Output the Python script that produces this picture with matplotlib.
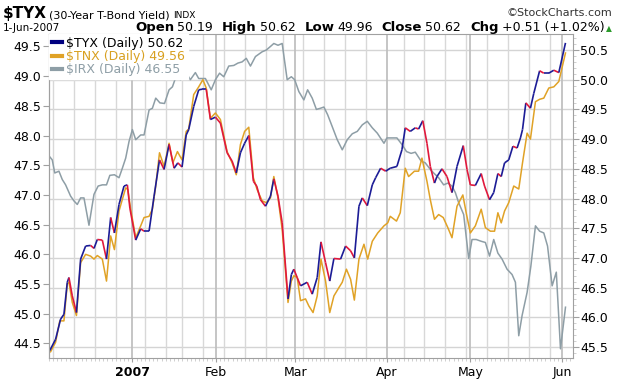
import numpy as np
import matplotlib
matplotlib.use("Agg")
from matplotlib import pyplot as plt
from matplotlib.collections import LineCollection
from matplotlib.lines import Line2D
from matplotlib.transforms import IdentityTransform

# x = trading day (0 = 1-Dec-2006), y
tyx_day = [0.2, 1.6, 2.8, 3.6, 4.4, 4.8, 5.6, 6.6, 7.6, 8.8, 10.0, 10.8, 11.6, 12.8, 13.8,
           14.8, 15.7, 16.8, 18.0, 18.8, 19.4, 20.8, 22.0, 22.8, 24.0, 25.2, 26.5, 27.6,
           28.8, 30.0, 30.9, 31.9, 32.9, 33.5, 34.7, 35.9, 36.7, 37.7, 38.7, 39.9, 41.1,
           42.7, 43.9, 44.9, 45.9, 46.9, 47.9, 49.0, 49.8, 50.7, 51.9, 53.1, 53.9, 54.9,
           55.9, 57.3, 58.1, 58.7, 59.5, 60.3, 61.9, 63.1, 64.3, 65.2, 66.3, 67.3, 68.3,
           69.9, 71.1, 72.3, 73.2, 74.3, 75.1, 76.3, 77.5, 78.3, 79.5, 80.7, 81.8, 83.4,
           84.6, 85.4, 86.6, 87.8, 88.6, 89.6, 90.6, 91.4, 92.4, 93.0, 94.2, 95.4, 96.6,
           97.8, 99.3, 100.2, 101.0, 102.2, 103.6, 104.4, 105.6, 106.6, 107.6, 108.4,
           109.2, 110.2, 111.2, 112.2, 113.0, 113.5, 114.3, 115.4, 116.2, 117.6, 118.6,
           119.8, 121.0, 122.2, 123.8]
tyx_val = [45.44, 45.63, 45.97, 46.05, 46.59, 46.67, 46.36, 46.08, 46.98, 47.20, 47.21,
           47.16, 47.31, 47.30, 46.98, 47.68, 47.42, 47.90, 48.21, 48.23, 47.84, 47.30,
           47.49, 47.45, 47.45, 48.04, 48.65, 48.49, 48.91, 48.51, 48.60, 48.53, 49.07,
           49.16, 49.55, 49.83, 49.84, 49.84, 49.33, 49.37, 49.27, 48.77, 48.63, 48.43,
           48.77, 48.93, 49.06, 48.29, 48.21, 47.98, 47.87, 48.04, 48.33, 48.04, 47.59,
           46.31, 46.72, 46.81, 46.67, 46.53, 46.59, 46.39, 46.67, 47.27, 46.92, 46.61,
           46.99, 46.98, 47.20, 47.12, 47.00, 47.87, 48.01, 47.88, 48.23, 48.35, 48.51,
           48.46, 48.51, 48.54, 48.82, 49.19, 49.13, 49.19, 49.17, 49.31, 48.93, 48.54,
           48.26, 48.37, 48.50, 48.37, 48.10, 48.54, 48.89, 48.49, 48.23, 48.22, 48.42,
           48.21, 47.98, 48.10, 48.42, 48.37, 48.60, 48.65, 48.88, 48.85, 49.02, 49.16,
           49.61, 49.52, 49.77, 50.15, 50.11, 50.11, 50.16, 50.12, 50.62]

tnx_day = [0.4, 1.6, 2.6, 3.6, 4.4, 4.8, 5.6, 6.6, 7.6, 8.8, 10.0, 10.8, 11.6, 12.8, 13.8,
           14.8, 15.7, 16.8, 18.4, 18.9, 19.6, 20.8, 22.0, 22.8, 24.0, 24.8, 25.6, 26.5,
           27.6, 28.8, 29.7, 30.8, 31.9, 32.9, 33.5, 34.7, 35.9, 36.9, 37.7, 38.7, 39.9,
           41.1, 42.7, 43.9, 44.9, 45.9, 46.9, 47.9, 49.0, 49.9, 51.1, 52.1, 53.1, 53.9,
           54.9, 55.9, 57.3, 58.1, 58.7, 59.5, 60.3, 61.5, 62.3, 63.3, 64.3, 65.2, 66.3,
           67.3, 68.3, 69.5, 70.3, 71.3, 72.3, 73.2, 74.3, 75.5, 76.4, 77.5, 78.8, 80.3,
           81.2, 81.8, 83.3, 84.2, 85.4, 86.2, 87.6, 88.6, 89.4, 90.6, 91.4, 92.4, 93.4,
           94.5, 95.6, 96.6, 97.8, 99.2, 100.0, 101.0, 102.2, 103.6, 104.6, 105.8, 106.8,
           107.6, 108.4, 109.2, 110.2, 111.4, 112.6, 113.5, 114.6, 115.4, 116.6, 117.6,
           118.6, 119.8, 121.0, 122.2, 123.8]
tnx_val = [45.42, 45.58, 45.94, 45.94, 46.56, 46.59, 46.25, 46.03, 46.92, 47.06, 47.03,
           46.98, 47.04, 46.98, 46.61, 47.37, 47.14, 47.79, 48.18, 48.15, 47.82, 47.34,
           47.54, 47.68, 47.70, 47.82, 48.21, 48.77, 48.54, 48.93, 48.60, 48.79, 48.65,
           49.13, 49.17, 49.75, 49.88, 50.00, 49.86, 49.35, 49.44, 49.33, 48.79, 48.60,
           48.40, 48.91, 49.13, 49.20, 48.35, 48.15, 47.96, 47.93, 48.01, 48.37, 48.01,
           47.48, 46.25, 46.61, 46.70, 46.67, 46.28, 46.31, 46.19, 46.08, 46.36, 46.98,
           46.61, 46.08, 46.36, 46.50, 46.59, 46.81, 46.64, 46.29, 46.98, 47.23, 46.98,
           47.28, 47.42, 47.54, 47.59, 47.70, 47.62, 47.76, 48.51, 48.37, 48.46, 48.46,
           48.68, 48.29, 47.98, 47.65, 47.73, 47.68, 47.51, 47.34, 47.87, 48.06, 47.76,
           47.42, 47.54, 47.82, 47.51, 47.45, 47.45, 47.76, 47.59, 47.79, 47.93, 48.21,
           48.16, 48.60, 49.10, 49.00, 49.63, 49.67, 49.69, 49.86, 49.88, 49.97, 50.45]

irx_day = [0.0, 0.8, 1.4, 2.4, 3.2, 4.0, 5.2, 6.0, 6.8, 7.6, 8.4, 9.6, 10.8, 11.8, 12.8,
           13.8, 14.6, 15.7, 16.8, 17.6, 18.4, 19.2, 20.0, 20.8, 22.0, 22.8, 24.0, 24.8,
           25.6, 26.6, 27.7, 28.8, 29.6, 30.8, 31.5, 32.7, 33.9, 35.1, 35.9, 37.5, 38.9,
           39.9, 40.9, 41.9, 43.1, 44.3, 45.3, 46.3, 47.3, 48.3, 49.5, 51.1, 52.1, 53.1,
           53.9, 54.9, 55.9, 57.1, 58.1, 58.9, 59.9, 61.1, 62.0, 63.1, 64.1, 65.1, 65.9,
           66.8, 67.9, 69.1, 70.3, 71.5, 72.7, 73.9, 75.1, 76.3, 77.5, 78.7, 80.3, 81.0,
           82.2, 83.4, 84.6, 85.7, 86.8, 87.8, 89.2, 90.2, 91.4, 92.2, 93.4, 94.6, 95.6,
           96.6, 97.4, 98.2, 99.4, 100.6, 101.4, 102.4, 103.6, 104.6, 105.6, 106.6, 107.6,
           108.6, 109.8, 111.0, 111.8, 112.6, 113.4, 114.6, 115.5, 116.6, 117.6, 118.6,
           119.5, 120.6, 121.6, 122.6, 123.8]
irx_val = [48.72, 48.65, 48.43, 48.46, 48.32, 48.23, 48.04, 47.96, 47.90, 48.01, 48.01,
           47.55, 48.07, 48.21, 48.23, 48.23, 48.39, 48.40, 48.35, 48.51, 48.68, 48.96,
           49.16, 48.99, 49.07, 49.07, 49.49, 49.52, 49.69, 49.61, 49.60, 49.83, 49.88,
           50.12, 50.00, 50.14, 50.00, 50.12, 50.02, 50.02, 49.83, 50.00, 50.11, 50.05,
           50.23, 50.24, 50.28, 50.30, 50.36, 50.23, 50.39, 50.47, 50.50, 50.56, 50.61,
           50.58, 50.61, 50.00, 50.05, 50.00, 49.80, 49.66, 49.83, 49.69, 49.50, 49.52,
           49.54, 49.41, 49.21, 48.99, 48.82, 48.99, 49.09, 49.13, 49.24, 49.30, 49.19,
           49.10, 48.93, 49.02, 49.02, 49.02, 48.91, 48.79, 48.76, 48.78, 48.63, 48.60,
           48.49, 48.43, 48.35, 48.23, 48.26, 48.21, 48.10, 47.93, 47.73, 46.99, 47.31,
           47.31, 47.28, 47.26, 47.03, 47.31, 47.08, 46.98, 46.81, 46.72, 46.59, 45.69,
           46.03, 46.42, 46.86, 47.54, 47.45, 47.42, 47.20, 46.53, 46.76, 45.47, 46.17]

month_day = [20, 40, 59, 81, 101, 123]
month_lbl = ['2007', 'Feb', 'Mar', 'Apr', 'May', 'Jun']
week_day = [1, 6, 11, 16, 23, 28, 32, 37, 42, 47, 52, 56, 61, 66, 71, 76,
            85, 90, 95, 100, 105, 110, 115, 120]
right_ticks = [45.5, 46.0, 46.5, 47.0, 47.5, 48.0, 48.5, 49.0, 49.5, 50.0, 50.5]
left_ticks = [44.5, 45.0, 45.5, 46.0, 46.5, 47.0, 47.5, 48.0, 48.5, 49.0, 49.5]
left_shift = 1.06   # left scale sits this much below the right one

legend_lbl = ['$TYX (Daily) 50.62', '$TNX (Daily) 49.56', '$IRX (Daily) 46.55']

BLUE, RED = '#1c1c96', '#e0183c'
ORANGE, GRAY = '#e0a226', '#8e9ea6'
AX_GRAY = '#a0a0a0'

plt.rcParams['font.family'] = ['DejaVu Sans']
W, H = 620, 379
fig = plt.figure(figsize=(W / 100, H / 100), dpi=100)
ax = fig.add_axes([48.5 / W, 1 - 358 / H, 524.5 / W, 324.5 / H])
ax.set_xlim(-0.1, 125.6)
ax.set_ylim(45.315, 50.778)

# grid
ax.set_yticks(right_ticks)
ax.grid(axis='y', color='#d4d4d4', lw=1.0)
ax.vlines(week_day, 0, 1, transform=ax.get_xaxis_transform(), color='#d8d8d8', lw=1.0)
ax.vlines(month_day, 0, 1, transform=ax.get_xaxis_transform(), color='#c0c0c0', lw=1.3)
ax.set_axisbelow(True)

# series
ax.plot(irx_day, irx_val, color=GRAY, lw=1.1)
ax.plot(tnx_day, tnx_val, color=ORANGE, lw=1.1)
pts = np.column_stack([tyx_day, tyx_val])
segs = np.stack([pts[:-1], pts[1:]], axis=1)
seg_col = [BLUE if d >= 0 else RED for d in np.diff(tyx_val)]
ax.add_collection(LineCollection(segs, colors=seg_col, linewidths=1.2))

# axes styling
for s in ax.spines.values():
    s.set_color(AX_GRAY)
ax.yaxis.tick_right()
ax.yaxis.set_major_formatter(matplotlib.ticker.FormatStrFormatter('%.1f'))
ax.set_yticks(np.arange(45.4, 50.8, 0.1), minor=True)
ax.tick_params(axis='y', which='major', length=4, color=AX_GRAY, pad=1, labelsize=9)
ax.tick_params(axis='y', which='minor', length=2, color='#c8c8c8')

ax.set_xticks(month_day)
ax.set_xticklabels(month_lbl)
ax.set_xticks(np.arange(0, 126), minor=True)
ax.tick_params(axis='x', which='major', length=3, color=AX_GRAY, pad=3, labelsize=9)
ax.tick_params(axis='x', which='minor', length=2, color='#c8c8c8')
ax.get_xticklabels()[0].set_fontweight('bold')

left = ax.secondary_yaxis('left', functions=(lambda v: v - left_shift, lambda v: v + left_shift))
left.set_yticks(left_ticks)
left.yaxis.set_major_formatter(matplotlib.ticker.FormatStrFormatter('%.1f'))
left.tick_params(length=4, color=AX_GRAY, pad=1, labelsize=9)
left.spines['left'].set_color(AX_GRAY)

# legend
handles = [Line2D([], [], color=c, lw=3) for c in ('#000080', ORANGE, GRAY)]
leg = ax.legend(handles, legend_lbl, loc='upper left', borderaxespad=0, fontsize=9,
                handlelength=0.8, handletextpad=0.35, labelspacing=0.02, borderpad=0.25,
                frameon=True, fancybox=False, framealpha=1, edgecolor='white')
for t, c in zip(leg.get_texts(), ('black', '#d8a020', GRAY)):
    t.set_color(c)

# header, laid out in pixels
renderer = fig.canvas.get_renderer()


def put(txt, x, ytop, size, bold=False, color='black', ha='left'):
    return fig.text(x, H - ytop, txt, transform=IdentityTransform(), fontsize=size,
                    fontweight='bold' if bold else 'normal', color=color, ha=ha, va='baseline')


def flow(parts, x, ytop):
    for txt, size, bold, color, gap in parts:
        t = put(txt, x, ytop, size, bold, color)
        x += t.get_window_extent(renderer).width + gap
    return x


flow([(r'\$TYX', 11, True, 'black', 2), ('(30-Year T-Bond Yield)', 8, False, 'black', 3),
      ('INDX', 6.5, False, 'black', 0)], 3, 18)
put('©StockCharts.com', 612, 16, 8, color='#333333', ha='right')
put('1-Jun-2007', 3, 31, 7.5)

line2 = [('Open', 9.5, True, 'black', 3), ('50.19', 9, False, 'black', 9),
         ('High', 9.5, True, 'black', 3), ('50.62', 9, False, 'black', 9),
         ('Low', 9.5, True, 'black', 3), ('49.96', 9, False, 'black', 9),
         ('Close', 9.5, True, 'black', 3), ('50.62', 9, False, 'black', 9),
         ('Chg', 9.5, True, 'black', 3), ('+0.51 (+1.02%)', 9, False, 'black', 2),
         ('▲', 5.5, False, '#2a9a2a', 0)]
end = flow(line2, 0, 31)
shift = 612 - end
for t in fig.texts[-len(line2):]:
    x, y = t.get_position()
    t.set_position((x + shift, y))

fig.savefig('out.png', dpi=100)
